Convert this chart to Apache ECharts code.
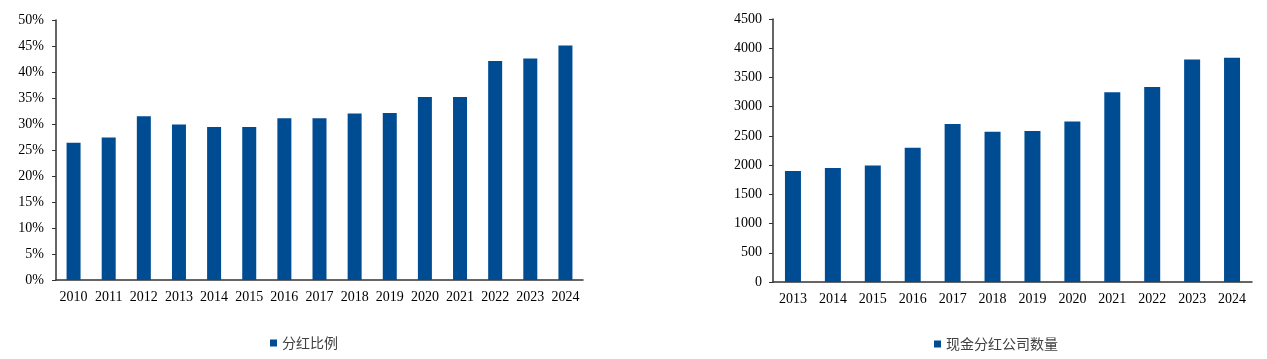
<!DOCTYPE html>
<html>
<head>
<meta charset="utf-8">
<script src="https://cdn.jsdelivr.net/npm/echarts@6/dist/echarts.min.js"></script>
<style>html,body{margin:0;padding:0;background:#fff;}#c{width:1267px;height:359px;}</style>
</head>
<body>
<div id="c"></div>
<script>
const yearsLeft = ['2010','2011','2012','2013','2014','2015','2016','2017','2018','2019','2020','2021','2022','2023','2024'];
const payoutRatio = [26.4, 27.4, 31.5, 29.9, 29.4, 29.4, 31.1, 31.1, 32.0, 32.1, 35.2, 35.2, 42.1, 42.6, 45.1];
const yearsRight = ['2013','2014','2015','2016','2017','2018','2019','2020','2021','2022','2023','2024'];
const cashDividendCompanies = [1900, 1950, 1995, 2295, 2705, 2570, 2585, 2745, 3245, 3335, 3805, 3835];
const nameLeft = '分红比例';
const nameRight = '现金分红公司数量';

const barColor = '#004C93';
const serif = '"Liberation Serif", "DejaVu Serif", serif';
const cjk = '"Noto Sans CJK SC", "Noto Sans", sans-serif';
const axisLine = {show: true, lineStyle: {color: '#333', width: 1.5}};

const chart = echarts.init(document.getElementById('c'), null, {renderer: 'canvas'});
chart.setOption({
  animation: false,
  backgroundColor: '#fff',
  grid: [
    {left: 56, right: 684, top: 20, bottom: 79},
    {left: 773, right: 15, top: 19, bottom: 77}
  ],
  legend: [
    {left: 265, top: 331, itemWidth: 7, itemHeight: 7, icon: 'rect', itemGap: 4,
     textStyle: {fontFamily: cjk, fontSize: 14, color: '#404040'}, data: [nameLeft]},
    {left: 929, top: 332, itemWidth: 7, itemHeight: 7, icon: 'rect', itemGap: 4,
     textStyle: {fontFamily: cjk, fontSize: 14, color: '#404040'}, data: [nameRight]}
  ],
  xAxis: [
    {type: 'category', gridIndex: 0, data: yearsLeft, axisLine: axisLine, axisTick: {show: false},
     axisLabel: {fontFamily: serif, fontSize: 14, color: '#000', margin: 10, interval: 0}},
    {type: 'category', gridIndex: 1, data: yearsRight, axisLine: axisLine, axisTick: {show: false},
     axisLabel: {fontFamily: serif, fontSize: 14, color: '#000', margin: 10, interval: 0}}
  ],
  yAxis: [
    {type: 'value', gridIndex: 0, min: 0, max: 50, interval: 5, splitLine: {show: false},
     axisLine: axisLine, axisTick: {show: true, length: 4, lineStyle: {color: '#333'}},
     axisLabel: {fontFamily: serif, fontSize: 14, color: '#000', margin: 12, formatter: '{value}%'}},
    {type: 'value', gridIndex: 1, min: 0, max: 4500, interval: 500, splitLine: {show: false},
     axisLine: axisLine, axisTick: {show: true, length: 4, lineStyle: {color: '#333'}},
     axisLabel: {fontFamily: serif, fontSize: 14, color: '#000', margin: 11, formatter: function (v) { return String(v); }}}
  ],
  series: [
    {name: nameLeft, type: 'bar', xAxisIndex: 0, yAxisIndex: 0, data: payoutRatio,
     barWidth: 14, itemStyle: {color: barColor}},
    {name: nameRight, type: 'bar', xAxisIndex: 1, yAxisIndex: 1, data: cashDividendCompanies,
     barWidth: 16, itemStyle: {color: barColor}}
  ]
});
</script>
</body>
</html>
